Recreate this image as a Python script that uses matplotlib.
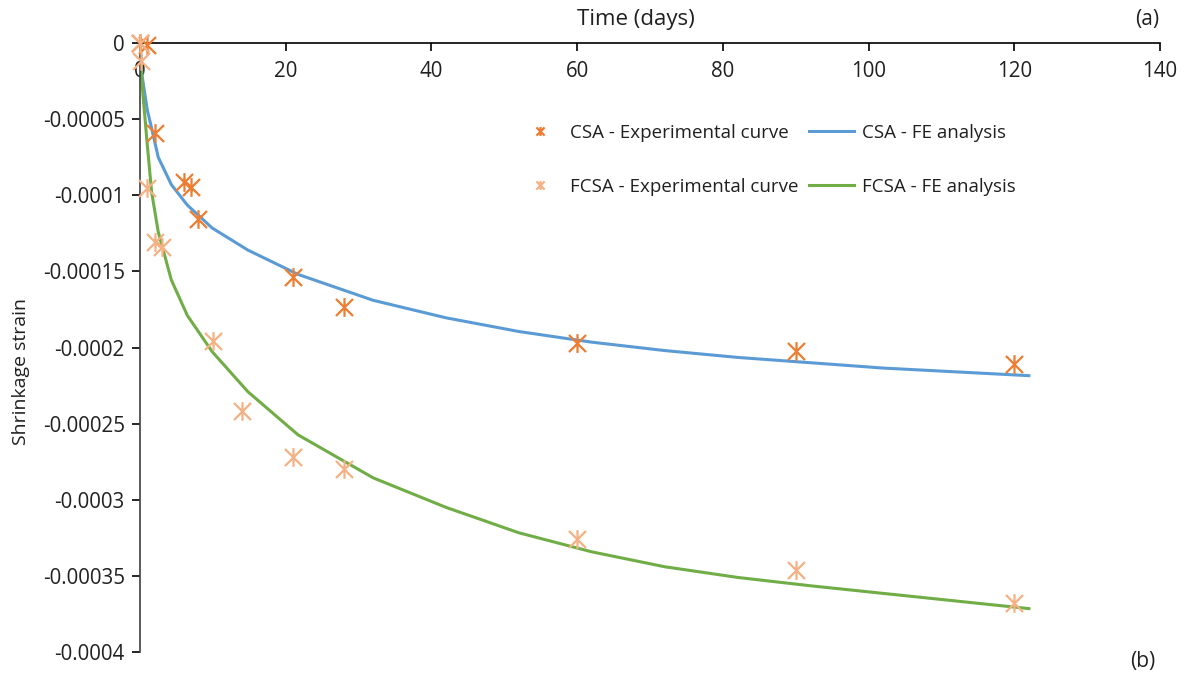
import matplotlib
matplotlib.use("Agg")
import matplotlib.pyplot as plt
from matplotlib.path import Path

# Data
csa_exp_days = [0, 1, 2, 6, 7, 8, 21, 28, 60, 90, 120]
csa_exp_strain = [0, -0.000001, -0.000059, -0.000091, -0.0000945, -0.0001155,
                  -0.0001536, -0.0001733, -0.000197, -0.000202, -0.000211]

fcsa_exp_days = [0, 0.1, 1, 2, 3, 10, 14, 21, 28, 60, 90, 120]
fcsa_exp_strain = [0, -0.000012, -0.000095, -0.000131, -0.000134, -0.000196,
                   -0.000242, -0.000272, -0.00028, -0.000326, -0.000346, -0.000368]

fe_days = [0, 0.3, 1, 1.6, 2.5, 4.3, 6.5, 9.9, 14.8, 21.7, 32, 42, 52, 62, 72,
           82, 92, 102, 112, 122]
csa_fe_strain = [0, -0.000022, -0.000044, -0.000056, -0.000075, -0.000093,
                 -0.0001065, -0.0001215, -0.000136, -0.000152, -0.000169,
                 -0.0001805, -0.0001895, -0.0001965, -0.000202, -0.0002065,
                 -0.00021, -0.0002135, -0.000216, -0.0002185]
fcsa_fe_strain = [0, -0.000028, -0.000067, -0.000098, -0.000124, -0.0001556,
                  -0.000179, -0.0002027, -0.000229, -0.0002574, -0.0002856,
                  -0.000305, -0.0003217, -0.0003342, -0.000344, -0.000351,
                  -0.0003565, -0.0003615, -0.0003665, -0.0003715]

y_ticks = [0, -0.00005, -0.0001, -0.00015, -0.0002, -0.00025, -0.0003,
           -0.00035, -0.0004]
y_tick_labels = ["0", "-0.00005", "-0.0001", "-0.00015", "-0.0002", "-0.00025",
                 "-0.0003", "-0.00035", "-0.0004"]
x_ticks = [0, 20, 40, 60, 80, 100, 120, 140]

plt.rcParams['font.family'] = ['Open Sans', 'DejaVu Sans']

# Excel-style star marker: X plus vertical line
star = Path([(-1, -1), (1, 1), (-1, 1), (1, -1), (0, -1.1), (0, 1.1)],
            [Path.MOVETO, Path.LINETO, Path.MOVETO, Path.LINETO, Path.MOVETO, Path.LINETO])

c_csa = "#ED7D31"
c_fcsa = "#F4B183"
c_blue = "#5B9BD5"
c_green = "#70AD47"

FS = 13.5
TFS = 14.8

fig = plt.figure(figsize=(11.89, 6.82), dpi=100)
ax = fig.add_axes([140/1189, 30/682, 1020/1189, 609/682])

ax.plot(fe_days, csa_fe_strain, color=c_blue, lw=2.2, label="CSA - FE analysis", zorder=2)
ax.plot(fe_days, fcsa_fe_strain, color=c_green, lw=2.2, label="FCSA - FE analysis", zorder=2)
ax.plot(csa_exp_days, csa_exp_strain, ls='none', marker=star, ms=13.5, mew=1.6,
        color=c_csa, clip_on=False, label="CSA - Experimental curve", zorder=3)
ax.plot(fcsa_exp_days, fcsa_exp_strain, ls='none', marker=star, ms=13.5, mew=1.6,
        color=c_fcsa, clip_on=False, label="FCSA - Experimental curve", zorder=3)

ax.set_xlim(0, 140)
ax.set_ylim(-0.0004, 0)
ax.spines['right'].set_visible(False)
ax.spines['top'].set_visible(False)
ax.spines['bottom'].set_position(('data', 0))
ax.spines['bottom'].set_linewidth(1.2)
ax.spines['left'].set_linewidth(1.2)
ax.spines['left'].set_color('#404040')

ax.set_xticks(x_ticks)
ax.set_xticklabels([str(v) for v in x_ticks])
ax.set_yticks(y_ticks)
ax.set_yticklabels(y_tick_labels)
ax.tick_params(axis='both', labelsize=TFS, colors='black', length=6, width=1.2,
               labelcolor='#202020')
ax.tick_params(axis='y', pad=5)
ax.tick_params(axis='x', pad=7)

ax.set_ylabel("Shrinkage strain", fontsize=FS + 0.5, color='#202020')
ax.yaxis.set_label_coords(-0.108, 0.46)
fig.text(636/1189, 1 - 20/682, "Time (days)", fontsize=16, ha='center', va='center',
         color='#202020')

handles, labels = ax.get_legend_handles_labels()
order = [2, 3, 0, 1]
leg = ax.legend([handles[i] for i in order], [labels[i] for i in order],
                ncol=2, frameon=False, fontsize=FS, loc='upper left',
                bbox_to_anchor=(517/1189, 1 - 124/682),
                bbox_transform=fig.transFigure, borderaxespad=0, borderpad=0,
                handlelength=2.4, columnspacing=0.6, labelspacing=1.9,
                markerscale=0.48, handletextpad=0.4)
for t in leg.get_texts():
    t.set_color('#202020')

fig.text(1147/1189, 1 - 20/682, "(a)", fontsize=FS + 1.5, ha='center', va='center',
         color='#202020')
fig.text(1143/1189, 1 - 662/682, "(b)", fontsize=FS + 1.5, ha='center', va='center',
         color='#202020')

fig.savefig("out.png", dpi=100)
